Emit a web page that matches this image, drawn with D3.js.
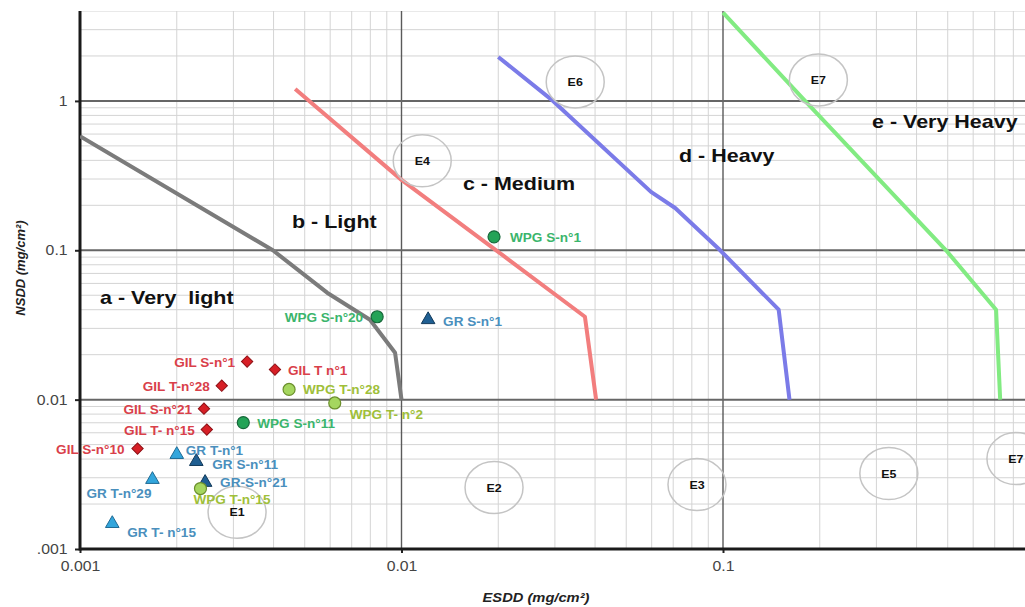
<!DOCTYPE html>
<html>
<head>
<meta charset="utf-8">
<script src="https://cdn.jsdelivr.net/npm/d3@7/dist/d3.min.js"></script>
<style>
  html, body { margin: 0; padding: 0; background: #fff; overflow: hidden; }
  svg { display: block; font-family: "Liberation Sans", Arial, sans-serif; }
</style>
</head>
<body>
<svg id="chart" width="1025" height="607"></svg>
<script>
// ---------- DATA ----------
const xTicks = [0.001, 0.01, 0.1];
const xTickLabels = ["0.001", "0.01", "0.1"];
const yTicks = [0.001, 0.01, 0.1, 1];
const yTickLabels = [".001", "0.01", "0.1", "1"];

const xTitle = "ESDD (mg/cm²)";
const yTitle = "NSDD (mg/cm²)";

// pollution class boundary curves [ESDD, NSDD]
const curveA = [[0.001, 0.58], [0.00398, 0.1], [0.00587, 0.052], [0.00798, 0.0343], [0.00955, 0.0206], [0.01, 0.01]];
const curveC = [[0.00467, 1.2], [0.01, 0.296], [0.0197, 0.1], [0.0372, 0.0359], [0.0403, 0.01]];
const curveD = [[0.02, 1.97], [0.0296, 1.0], [0.0597, 0.246], [0.071, 0.192], [0.098, 0.1], [0.149, 0.04], [0.161, 0.01]];
const curveE = [[0.1, 3.9], [0.18, 1.0], [0.494, 0.1], [0.707, 0.04], [0.728, 0.01]];

// class labels (anchor = start of text, baseline)
const classNames = ["a - Very  light", "b - Light", "c - Medium", "d - Heavy", "e - Very Heavy"];
const classAnchors = [[0.001154, 0.0438], [0.004565, 0.1412], [0.01553, 0.2536], [0.07298, 0.3905], [0.2908, 0.6585]];

// E-zones (centres)
const zoneNames = ["E1", "E2", "E3", "E4", "E5", "E6", "E7", "E7"];
const zoneCentres = [[0.00308, 0.00176], [0.0194, 0.00258], [0.083, 0.0027], [0.0116, 0.397],
                     [0.328, 0.0032], [0.0347, 1.34], [0.198, 1.38], [0.815, 0.00403]];

// measured sites
const gilNames = ["GIL S-n°1", "GIL T n°1", "GIL T-n°28", "GIL S-n°21", "GIL T- n°15", "GIL S-n°10"];
const gilESDD = [0.00331, 0.00404, 0.00276, 0.00243, 0.00248, 0.00151];
const gilNSDD = [0.0180, 0.0159, 0.0124, 0.0087, 0.0063, 0.0047];

const grNames = ["GR T-n°1", "GR S-n°11", "GR T-n°29", "GR-S-n°21", "GR T- n°15", "GR S-n°1"];
const grESDD = [0.0020, 0.0023, 0.00168, 0.00245, 0.00126, 0.0121];
const grNSDD = [0.00429, 0.00385, 0.00292, 0.00279, 0.00148, 0.0343];
const grKind = ["T", "S", "T", "S", "T", "S"];

const wpgNames = ["WPG S-n°20", "WPG T-n°28", "WPG T- n°2", "WPG S-n°11", "WPG T-n°15", "WPG S-n°1"];
const wpgESDD = [0.0084, 0.00447, 0.0062, 0.00322, 0.00237, 0.0194];
const wpgNSDD = [0.0359, 0.0117, 0.0095, 0.00702, 0.00254, 0.123];
const wpgKind = ["S", "T", "T", "S", "T", "S"];

// ---------- LAYOUT / STYLE ----------
const svg = d3.select("#chart");
const x = d3.scaleLog().domain([0.001, 1]).range([80, 1044.5]);
const y = d3.scaleLog().domain([0.001, 4]).range([549, 11]);
const X0 = 80, X1 = 1025, Y0 = 549, Y1 = 11;
const SX = 1.13; // horizontal stretch of the reference's lettering

// label placement [dx, dy, anchor]
const gilLabelPos = [[-12, 1, "end"], [13, 1, "start"], [-12, 1, "end"], [-12, 1, "end"], [-12, 1, "end"], [-13, 1, "end"]];
const grLabelPos  = [[9, -4, "start"], [16, 3, "start"], [-1, 15, "end"], [15, 1, "start"], [15, 9, "start"], [15, 2, "start"]];
const wpgLabelPos = [[-14, 1, "end"], [14, 1, "start"], [15, 12, "start"], [14, 1, "start"], [-7, 11, "start"], [16, 1, "start"]];

function sText(g, px, py, anchor, str, size, weight, fill, style) {
  return g.append("text")
    .attr("transform", `translate(${px},${py}) scale(${SX},1)`)
    .attr("text-anchor", anchor)
    .attr("font-size", size).attr("font-weight", weight || "normal")
    .attr("font-style", style || "normal")
    .attr("fill", fill)
    .style("white-space", "pre")
    .text(str);
}

const defs = svg.append("defs");
defs.append("clipPath").attr("id", "plotclip").append("rect")
  .attr("x", X0).attr("y", Y1).attr("width", X1 - X0).attr("height", Y0 - Y1);

// ---------- GRID ----------
const grid = svg.append("g").attr("clip-path", "url(#plotclip)");
const minorX = [], minorY = [];
[0.001, 0.01, 0.1].forEach(d => { for (let k = 2; k <= 9; k++) minorX.push(d * k); });
[0.001, 0.01, 0.1, 1].forEach(d => { for (let k = 2; k <= 9; k++) if (d * k <= 4.01) minorY.push(d * k); });

grid.selectAll("line.mx").data(minorX).join("line")
  .attr("x1", d => x(d)).attr("x2", d => x(d)).attr("y1", Y1).attr("y2", Y0)
  .attr("stroke", "#d4d4d4").attr("stroke-width", 1);
grid.selectAll("line.my").data(minorY).join("line")
  .attr("x1", X0).attr("x2", X1).attr("y1", d => y(d)).attr("y2", d => y(d))
  .attr("stroke", "#d4d4d4").attr("stroke-width", 1);
grid.selectAll("line.Mx").data([0.01, 0.1]).join("line")
  .attr("x1", d => x(d)).attr("x2", d => x(d)).attr("y1", Y1).attr("y2", Y0)
  .attr("stroke", "#5a5a5a").attr("stroke-width", 1.4);
grid.selectAll("line.My").data([0.01, 0.1, 1]).join("line")
  .attr("x1", X0).attr("x2", X1).attr("y1", d => y(d)).attr("y2", d => y(d))
  .attr("stroke", "#666").attr("stroke-width", 2);

// ---------- AXES ----------
const xAxis = d3.axisBottom(x).tickValues(xTicks).tickFormat((d, i) => xTickLabels[i]).tickSize(4).tickPadding(8);
const yAxis = d3.axisLeft(y).tickValues(yTicks).tickFormat((d, i) => yTickLabels[i]).tickSize(5).tickPadding(6);

const gx = svg.append("g").attr("transform", `translate(0,${Y0})`).call(xAxis);
gx.select(".domain").remove();
gx.selectAll(".tick line").attr("stroke", "#222").attr("stroke-width", 2);
gx.selectAll(".tick text").attr("font-size", 14).attr("fill", "#444")
  .attr("font-family", "Liberation Sans, Arial, sans-serif")
  .attr("transform", `scale(${SX},1)`);

const gy = svg.append("g").attr("transform", `translate(${X0},0)`).call(yAxis);
gy.select(".domain").remove();
gy.selectAll(".tick line").attr("stroke", "#222").attr("stroke-width", 2);
gy.selectAll(".tick text").attr("font-size", 14).attr("fill", "#444")
  .attr("font-family", "Liberation Sans, Arial, sans-serif")
  .attr("transform", `scale(${SX},1)`);

svg.append("line").attr("x1", X0).attr("x2", X1).attr("y1", Y0).attr("y2", Y0)
  .attr("stroke", "#1a1a1a").attr("stroke-width", 3);
svg.append("line").attr("x1", X0).attr("x2", X0).attr("y1", Y1).attr("y2", Y0 + 1.5)
  .attr("stroke", "#1a1a1a").attr("stroke-width", 3);

sText(svg, 536, 602, "middle", xTitle, 13, "bold", "#222", "italic");
svg.append("text").attr("transform", "translate(25,268) rotate(-90)").attr("text-anchor", "middle")
  .attr("font-size", 13).attr("font-weight", "bold").attr("font-style", "italic").attr("fill", "#222")
  .text(yTitle);

// ---------- CURVES ----------
const plot = svg.append("g").attr("clip-path", "url(#plotclip)");
const line = d3.line().x(d => x(d[0])).y(d => y(d[1]));
const curves = [
  { data: curveA, color: "#7b7b7b" },
  { data: curveC, color: "#f27e7e" },
  { data: curveD, color: "#7b7be8" },
  { data: curveE, color: "#82eb82" }
];
plot.selectAll("path.curve").data(curves).join("path")
  .attr("d", d => line(d.data)).attr("fill", "none")
  .attr("stroke", d => d.color).attr("stroke-width", 4)
  .attr("stroke-linejoin", "round").attr("stroke-linecap", "butt");

// ---------- ZONES ----------
const zones = zoneNames.map((n, i) => ({ name: n, c: zoneCentres[i] }));
plot.selectAll("ellipse.zone").data(zones).join("ellipse")
  .attr("cx", d => x(d.c[0])).attr("cy", d => y(d.c[1]))
  .attr("rx", 29).attr("ry", 26)
  .attr("fill", "none").attr("stroke", "#c4c4c4").attr("stroke-width", 1.5);
zones.forEach(d => sText(plot, x(d.c[0]), y(d.c[1]) + 4, "middle", d.name, 11, "bold", "#111"));

// ---------- CLASS LABELS ----------
classNames.forEach((n, i) => sText(plot, x(classAnchors[i][0]), y(classAnchors[i][1]), "start", n, 19, "bold", "#111"));

// ---------- POINTS ----------
const pts = svg.append("g");
const labelG = svg.append("g");

// GIL diamonds (squares turned 45°)
gilNames.forEach((n, i) => {
  const cx = x(gilESDD[i]), cy = y(gilNSDD[i]);
  pts.append("path").attr("d", d3.symbol(d3.symbolSquare, 64)())
    .attr("transform", `translate(${cx},${cy}) rotate(45)`)
    .attr("fill", "#d71f26").attr("stroke", "#8e1015").attr("stroke-width", 1);
  const p = gilLabelPos[i];
  sText(labelG, cx + p[0], cy + p[1] + 4, p[2], n, 12, "bold", "#d9404a");
});

// GR triangles
grNames.forEach((n, i) => {
  const cx = x(grESDD[i]), cy = y(grNSDD[i]);
  const dark = grKind[i] === "S";
  pts.append("path").attr("d", d3.symbol(d3.symbolTriangle, 80)())
    .attr("transform", `translate(${cx},${cy})`)
    .attr("fill", dark ? "#1f5f92" : "#33a6dc").attr("stroke", dark ? "#123a5a" : "#1e6a94").attr("stroke-width", 1);
  const p = grLabelPos[i];
  sText(labelG, cx + p[0], cy + p[1] + 4, p[2], n, 12, "bold", "#4a8fbd");
});

// WPG circles
wpgNames.forEach((n, i) => {
  const cx = x(wpgESDD[i]), cy = y(wpgNSDD[i]);
  const dark = wpgKind[i] === "S";
  pts.append("circle").attr("cx", cx).attr("cy", cy).attr("r", 6)
    .attr("fill", dark ? "#24a357" : "#a5d65f").attr("stroke", dark ? "#17683a" : "#6b8f2c").attr("stroke-width", 1.2);
  const p = wpgLabelPos[i];
  sText(labelG, cx + p[0], cy + p[1] + 4, p[2], n, 12, "bold", dark ? "#3bb56c" : "#9fbf3a");
});
</script>
</body>
</html>
